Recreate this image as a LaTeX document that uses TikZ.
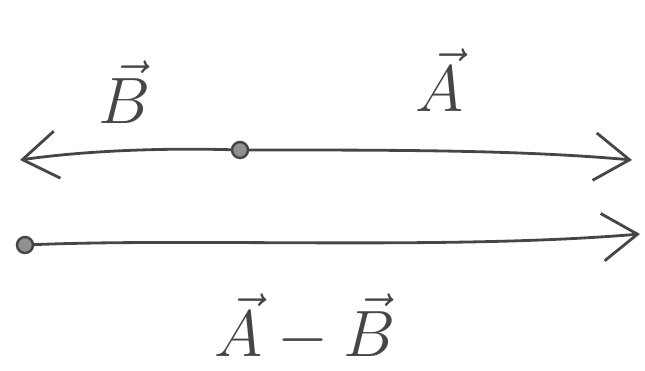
\documentclass[tikz,border=0pt]{standalone}
\usepackage{tikz}
\usetikzlibrary{positioning,arrows.meta}
\definecolor{pencil}{RGB}{70,70,70}

\begin{document}
\begin{tikzpicture}[
  x=0.02cm, y=-0.02cm,
  vec/.style={draw=pencil, line width=1.6pt, line cap=round,
              -{Straight Barb[length=0.7cm, width=0.95cm, line width=1.6pt]}},
  origin/.style={circle, draw=pencil, fill=pencil!60, line width=1.4pt,
                 minimum size=0.32cm, inner sep=0pt},
  lbl/.style={text=pencil, font=\Huge, scale=1.5, transform shape},
]
\useasboundingbox (0,0) rectangle (645,371);

% Top line: A to the right, B to the left
\node[origin] (o1) at (240,150) {};
\coordinate (tipA) at (632,160);
\coordinate (tipB) at (20,160);
\draw[vec] (o1) .. controls (400,150) and (520,150) .. (tipA);
\draw[vec] (o1) .. controls (170,148) and (90,150) .. (tipB);

% Bottom line: the difference
\node[origin] (o2) at (25,245) {};
\coordinate (tipD) at (640,234);
\draw[vec] (o2) .. controls (200,238) and (450,250) .. (tipD);

% Labels
\node[lbl] (labB) at (125,92) {$\vec{B}$};
\node[lbl] (labA) at (440,80) {$\vec{A}$};
\node[lbl] (labD) at (305,328) {$\vec{A}-\vec{B}$};
\end{tikzpicture}
\end{document}
